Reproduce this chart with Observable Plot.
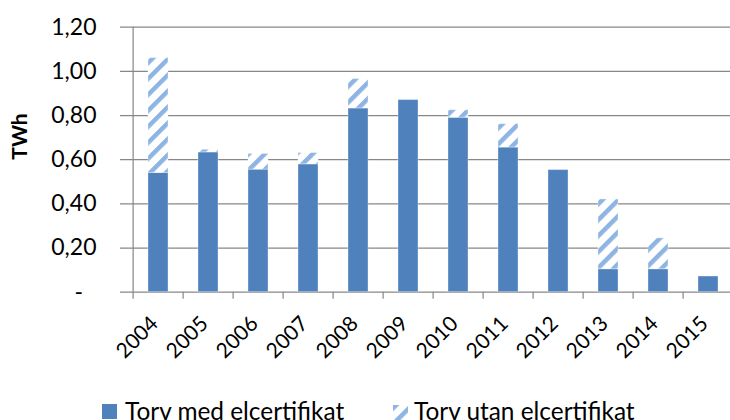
<!DOCTYPE html>
<html>
<head>
<meta charset="utf-8">
<script src="https://cdn.jsdelivr.net/npm/d3@7"></script>
<script src="https://cdn.jsdelivr.net/npm/@observablehq/plot@0.6"></script>
<style>
  html, body { margin: 0; padding: 0; background: #fff; }
  #wrap { position: relative; width: 730px; height: 420px; overflow: hidden; font-family: Lato, sans-serif; }
  .leg { position: absolute; top: 397px; font-size: 24.4px; line-height: 28px; color: #000; white-space: nowrap; }
  .sw { position: absolute; top: 404px; width: 15px; height: 15px; }
</style>
</head>
<body>
<div id="wrap"></div>
<script>
const years = ["2004","2005","2006","2007","2008","2009","2010","2011","2012","2013","2014","2015"];
const medElcert = [0.54, 0.633, 0.555, 0.579, 0.832, 0.87, 0.79, 0.655, 0.553, 0.104, 0.104, 0.071];
const utanElcert = [0.52, 0.012, 0.071, 0.051, 0.133, 0, 0.034, 0.106, 0, 0.316, 0.14, 0];
const seriesNames = ["Torv med elcertifikat", "Torv utan elcertifikat"];
const yTicks = [0, 0.2, 0.4, 0.6, 0.8, 1.0, 1.2];
const yLabel = "TWh";

const darkBlue = "#4F81BD";
const lightBlue = "#8DB4E2";

const rows = [];
years.forEach((y, i) => {
  rows.push({year: y, series: seriesNames[0], value: medElcert[i]});
  rows.push({year: y, series: seriesNames[1], value: utanElcert[i]});
});

const xRange = [128, 737];
const step = (xRange[1] - xRange[0]) / years.length;
const grid = "#878787";

const fmt = v => v === 0 ? "-\u2007" : v.toFixed(2).replace(".", ",");

const chart = Plot.plot({
  width: 730,
  height: 395,
  marginLeft: 120,
  marginRight: 0,
  marginTop: 26.7,
  marginBottom: 103.3,
  style: {fontFamily: "Lato, sans-serif", fontSize: "22px", color: "#000", background: "#fff"},
  x: {type: "band", domain: years, range: xRange, paddingInner: 0.6, paddingOuter: 0.3},
  y: {domain: [0, 1.2]},
  color: {domain: seriesNames, range: [darkBlue, "url(#hatch)"]},
  marks: [
    Plot.ruleY(yTicks, {stroke: grid, strokeWidth: 1.2}),
    Plot.ruleX([years[0]], {dx: -step / 2, stroke: grid, strokeWidth: 1.2}),
    Plot.barY(rows, {x: "year", y: "value", fill: "series", stroke: "#ffffff", strokeOpacity: 0.35, strokeWidth: 1}),
    Plot.axisY({ticks: yTicks, tickFormat: fmt, tickSize: 0, tickPadding: 24, label: null, fontSize: 23}),
    Plot.axisX({tickSize: 7, tickFormat: () => "", dx: -step / 2, stroke: grid, strokeWidth: 1.2, label: null}),
    Plot.axisX({tickSize: 0, tickRotate: -45, tickPadding: 10, dx: -4, dy: 18, label: null, fontSize: 21, fill: "#000"}),
    Plot.text([yLabel], {frameAnchor: "left", rotate: -90, dx: -100, fontWeight: "bold", fontSize: 21, fill: "#000"})
  ]
});

// hatch pattern
const defs = d3.select(chart).insert("defs", ":first-child");
const pat = defs.append("pattern")
  .attr("id", "hatch")
  .attr("patternUnits", "userSpaceOnUse")
  .attr("width", 11.3).attr("height", 11.3)
  .attr("patternTransform", "rotate(45)");
pat.append("rect").attr("width", 11.3).attr("height", 11.3).attr("fill", "#fff");
pat.append("rect").attr("width", 4.5).attr("height", 11.3).attr("fill", lightBlue);

const wrap = document.getElementById("wrap");
wrap.appendChild(chart);

// legend
function addLegend(left, textLeft, name, hatch) {
  const s = document.createElement("div");
  s.className = "sw";
  s.style.left = left + "px";
  if (hatch) {
    s.innerHTML = '<svg width="15" height="15"><defs><pattern id="hatchL" patternUnits="userSpaceOnUse" width="11.3" height="11.3" patternTransform="rotate(45)"><rect width="11.3" height="11.3" fill="#fff"/><rect width="4.5" height="11.3" fill="' + lightBlue + '"/></pattern></defs><rect width="15" height="15" fill="url(#hatchL)"/></svg>';
  } else {
    s.style.background = darkBlue;
  }
  wrap.appendChild(s);
  const t = document.createElement("div");
  t.className = "leg";
  t.style.left = textLeft + "px";
  t.textContent = name;
  wrap.appendChild(t);
}
addLegend(102, 125, seriesNames[0], false);
addLegend(393, 414, seriesNames[1], true);
</script>
</body>
</html>
